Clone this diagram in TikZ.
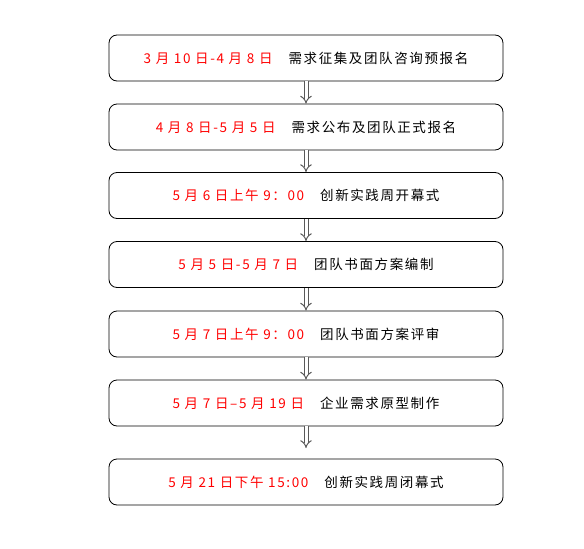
\documentclass[tikz,border=0pt]{standalone}
\usepackage{fontspec}
\setmainfont{Noto Sans CJK SC}
\usetikzlibrary{arrows.meta}
\usepackage{xcolor}

\begin{document}
\begin{tikzpicture}[x=1pt,y=-1pt,
  bx/.style={draw,rounded corners=8pt,line width=0.8pt,minimum width=394pt,
    minimum height=46pt,inner sep=0pt,
    font=\fontsize{13.5}{15}\selectfont\addfontfeature{LetterSpace=12}},
  fl/.style={double=white,double distance=3pt,line width=1pt,gray!70!black,
    -{Implies[scale=1.2]}}]
  \useasboundingbox (0,0) rectangle (584,549);
  \foreach \j/\y/\dt/\ev in {1/58/{3 月 10 日-4 月 8 日}/需求征集及团队咨询预报名,
      2/127/{4 月 8 日-5 月 5 日}/需求公布及团队正式报名,
      3/195.5/{5 月 6 日上午 9：00}/创新实践周开幕式,
      4/264.5/{5 月 5 日-5 月 7 日}/团队书面方案编制,
      5/334/{5 月 7 日上午 9：00}/团队书面方案评审,
      6/403/{5 月 7 日–5 月 19 日}/企业需求原型制作,
      7/482/{5 月 21 日下午 15:00}/创新实践周闭幕式} {
    \node[bx] (S\j) at (306,\y) {\textcolor{red}{\dt}\hspace{16pt}\ev};
  }
  \draw[fl] (S1) -- (S2); \draw[fl] (S2) -- (S3);
  \draw[fl] (S3) -- (S4); \draw[fl] (S4) -- (S5);
  \draw[fl] (S5) -- (S6);
  \coordinate (E7) at (306,448);
  \draw[fl] (S6.south) -- (E7);
\end{tikzpicture}
\end{document}
